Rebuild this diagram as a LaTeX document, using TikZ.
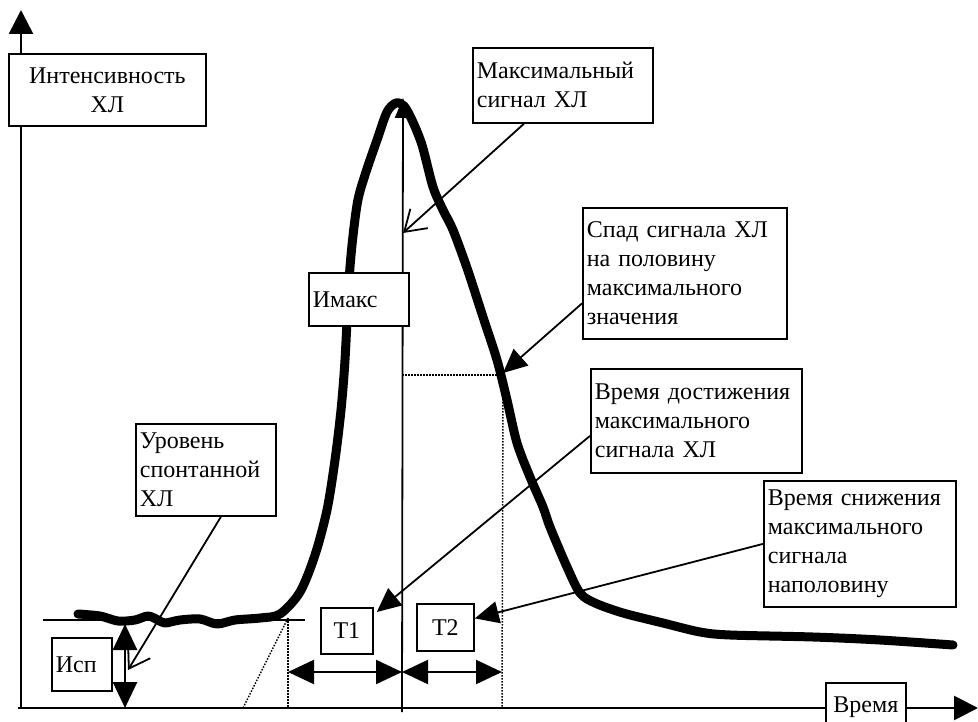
\documentclass[tikz,border=0pt]{standalone}
\usepackage{fontspec}
\setmainfont{Liberation Serif}
\usetikzlibrary{arrows.meta,positioning}

\begin{document}
\begin{tikzpicture}[
      x=1pt,y=-1pt,
      font=\fontsize{24}{29}\selectfont,
      box/.style={draw=black,line width=1.8pt,fill=white,inner xsep=4pt,inner ysep=2pt,align=left,anchor=north west},
      axis/.style={-{Triangle[length=24pt,width=24pt]},line width=2.6pt},
      signal/.style={line width=9pt,line join=round,line cap=round},
      guide/.style={line width=1.5pt,dash pattern=on 1.5pt off 1.5pt},
      callout/.style={-{Triangle[length=24pt,width=22pt]},line width=1.8pt},
      barbarrow/.style={-{Straight Barb[length=20pt,width=26pt]},line width=1.8pt},
      span/.style={{Triangle[length=26pt,width=24pt]}-{Triangle[length=26pt,width=24pt]},line width=2.2pt},
      >=Latex
    ]
    \useasboundingbox (0,0) rectangle (978,722);

    % Axes
    \coordinate (origin) at (21,708);
    \coordinate (ytip) at (21,10);
    \coordinate (xstart) at (18,708);
    \coordinate (xtip) at (978,708);
    \draw[axis] (origin) -- (ytip);
    \draw[axis] (xstart) -- (xtip);

    % Guide lines
    \coordinate (halfy) at (402,375);
    \coordinate (halfcross) at (503,375);
    \coordinate (halfbase) at (502,708);
    \coordinate (riseknee) at (288,618);
    \coordinate (risebase) at (288,708);
    \coordinate (tangentfoot) at (243,708);
    \draw[guide] (halfy) -- (halfcross);
    \draw[guide] (halfcross) -- (halfbase);
    \draw[guide] (riseknee) -- (risebase);
    \draw[guide] (riseknee) -- (tangentfoot);

    % Spontaneous level
    \coordinate (base0) at (43,620);
    \coordinate (base1) at (305,620);
    \draw[line width=1.5pt] (base0) -- (base1);

    % Signal
    \draw[signal] plot[smooth,tension=0.5] coordinates {
      (78,614) (100,616) (118,621) (135,620) (148,616) (158,620) (165,623)
      (180,620) (200,619) (217,624) (235,620) (260,618) (280,614)
      (300,592) (315,555) (327,510) (335,460) (341,410) (345,360)
      (350,267) (357,205) (365,175) (377,140) (387,112) (396,103)
      (404,106) (412,120) (422,145) (433,187) (443,210) (453,230)
      (467,268) (483,317) (497,360) (507,400) (517,443) (530,477)
      (543,507) (550,527) (567,567) (580,593) (595,603) (623,613)
      (663,623) (700,632) (730,635) (813,637) (880,640) (953,645)};

    % Peak line
    \coordinate (peak) at (403,98);
    \coordinate (peakfoot) at (402,712);
    \draw[line width=1.8pt,-{Triangle[length=20pt,width=16pt]}] (peakfoot) -- (peak);

    % Time spans
    \coordinate (t0) at (288,672);
    \coordinate (tpk) at (402,672);
    \coordinate (thf) at (502,672);
    \coordinate (isptop) at (125,624);
    \coordinate (ispbot) at (125,708);
    \draw[span] (t0) -- (tpk);
    \draw[span] (tpk) -- (thf);
    \draw[span,line width=2.8pt] (isptop) -- (ispbot);

    % Boxes
    \node[box,text width=189pt,minimum height=72pt,align=center] (ylabel) at (8,53) {Интенсивность\\ХЛ};
    \node[box,text width=172pt,minimum height=75pt] (maxsig) at (472,47) {Максимальный\\сигнал ХЛ};
    \node[box,text width=92pt,minimum height=53pt] (imax) at (308,272) {Имакс};
    \node[box,text width=132pt,minimum height=92pt] (spont) at (135,423) {Уровень\\спонтанной\\ХЛ};
    \node[box,text width=52pt,minimum height=53pt] (isp) at (51,637) {Исп};
    \node[box,text width=196pt,minimum height=131pt] (half) at (582,207) {Спад сигнала ХЛ\\на половину\\максимального\\значения};
    \node[box,text width=203pt,minimum height=104pt] (tmax) at (590,368) {Время достижения\\максимального\\сигнала ХЛ};
    \node[box,text width=184pt,minimum height=126pt] (thalf) at (763,480) {Время снижения\\максимального\\сигнала\\наполовину};
    \node[box,text width=44pt,minimum height=46pt,align=center] (T1) at (320,607) {T1};
    \node[box,text width=49pt,minimum height=47pt,align=center] (T2) at (416,603) {T2};
    \node[box,text width=72pt,minimum height=48pt,align=center] (time) at (825,682) {Время};

    % Callouts
    \coordinate (imaxpt) at (403,233);
    \coordinate (isppt) at (128,670);
    \coordinate (halfpt) at (503,373);
    \draw[barbarrow] ([xshift=-39pt]maxsig.south) -- (imaxpt);
    \draw[barbarrow] ([xshift=15pt]spont.south) -- (isppt);
    \draw[callout] ([yshift=-30pt]half.west) -- (halfpt);
    \draw[callout] ([yshift=-15pt]tmax.west) -- ([xshift=3pt,yshift=-5pt]T1.north east);
    \draw[callout] (thalf.west) -- ([yshift=9pt]T2.east);

  \end{tikzpicture}
\end{document}
